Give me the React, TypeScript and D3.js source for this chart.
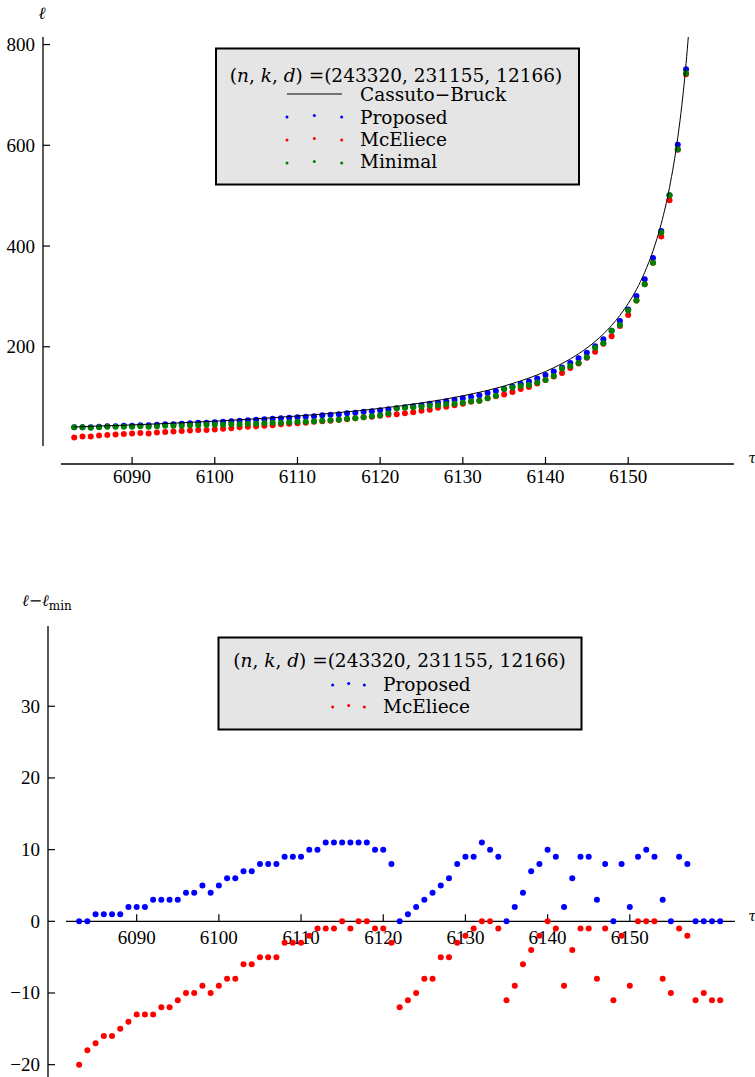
import React from 'react';
import * as d3 from 'd3';

// ---------- data ----------
const tauTop = [6083,6084,6085,6086,6087,6088,6089,6090,6091,6092,6093,6094,6095,6096,6097,6098,6099,6100,6101,6102,6103,6104,6105,6106,6107,6108,6109,6110,6111,6112,6113,6114,6115,6116,6117,6118,6119,6120,6121,6122,6123,6124,6125,6126,6127,6128,6129,6130,6131,6132,6133,6134,6135,6136,6137,6138,6139,6140,6141,6142,6143,6144,6145,6146,6147,6148,6149,6150,6151,6152,6153,6154,6155,6156,6157];
const proposedTop = [40,40,40,41,42,42,43,43,44,44,45,46,46,47,48,49,49,50,51,52,53,54,55,56,57,58,59,60,61,62,64,65,66,68,69,71,72,74,76,78,80,82,84,87,89,92,95,98,101,104,108,112,116,121,126,131,137,144,151,159,168,177,188,201,215,232,251,274,301,334,376,430,501,601,751];
const mcelieceTop = [20,22,22,24,25,26,27,28,29,28,30,31,32,33,34,35,35,36,37,38,40,41,42,43,44,46,47,48,49,51,52,53,55,56,58,60,61,63,65,66,68,70,73,75,79,81,84,87,91,93,98,102,105,110,116,120,127,134,141,148,158,167,178,190,206,221,241,263,292,324,367,419,491,591,741];
const minimalTop = [40,40,39,40,41,41,41,41,42,41,42,43,43,43,44,44,45,45,45,46,46,47,47,48,49,49,50,51,51,52,53,54,55,57,58,60,62,64,68,78,79,80,81,83,84,86,87,89,92,93,98,103,116,119,122,124,129,134,142,157,162,168,179,198,207,232,243,272,292,324,367,427,501,592,743];

const cbTau = [6083,6085,6090,6095,6100,6105,6110,6115,6120,6125,6130,6135,6138,6140,6142,6144,6146,6147,6148,6149,6150,6151,6152,6153,6154,6155,6156,6156.5,6157,6157.3];
const cbVal = [40.9,42.0,44.9,48.3,52.3,56.9,62.5,69.3,77.7,88.4,102.6,122.1,137.9,150.9,166.7,186.0,210.5,225.4,242.4,262.3,285.7,313.7,347.8,390.2,444.4,516.1,615.4,680.9,761.9,820.5];

const tauBottom = [6083,6084,6085,6086,6087,6088,6089,6090,6091,6092,6093,6094,6095,6096,6097,6098,6099,6100,6101,6102,6103,6104,6105,6106,6107,6108,6109,6110,6111,6112,6113,6114,6115,6116,6117,6118,6119,6120,6121,6122,6123,6124,6125,6126,6127,6128,6129,6130,6131,6132,6133,6134,6135,6136,6137,6138,6139,6140,6141,6142,6143,6144,6145,6146,6147,6148,6149,6150,6151,6152,6153,6154,6155,6156,6157,6158,6159,6160,6161];
const diffProposed = [0,0,1,1,1,1,2,2,2,3,3,3,3,4,4,5,4,5,6,6,7,7,8,8,8,9,9,9,10,10,11,11,11,11,11,11,10,10,8,0,1,2,3,4,5,6,8,9,9,11,10,9,0,2,4,7,8,10,9,2,6,9,9,3,8,0,8,2,9,10,9,3,0,9,8,0,0,0,0];
const diffMcEliece = [-20,-18,-17,-16,-16,-15,-14,-13,-13,-13,-12,-12,-11,-10,-10,-9,-10,-9,-8,-8,-6,-6,-5,-5,-5,-3,-3,-3,-2,-1,-1,-1,0,-1,0,0,-1,-1,-3,-12,-11,-10,-8,-8,-5,-5,-3,-2,-1,0,0,-1,-11,-9,-6,-4,-2,0,-1,-9,-4,-1,-1,-8,-1,-11,-2,-9,0,0,0,-8,-10,-1,-2,-11,-10,-11,-11];

const xTicks = [6090, 6100, 6110, 6120, 6130, 6140, 6150];
const yTicksTop = [200, 400, 600, 800];
const yTicksBottom = [-20, -10, 0, 10, 20, 30];

const legendTitle = '(243320, 231155, 12166)';

// ---------- styling ----------
const BLUE = '#0000ff';
const RED = '#ff0000';
const GREEN = '#008000';
const TICK_FONT = '"Liberation Serif", "Times New Roman", serif';
const LEG_FONT = '"DejaVu Serif", serif';
const TICK_SIZE = 19;

const fmt = (v: number) => (v < 0 ? '\u2212' + Math.abs(v) : String(v));

export default function App() {
  const xTop = d3.scaleLinear().domain([6081.4, 6162.8]).range([61, 734]);
  const yTop = d3.scaleLinear().domain([3, 815]).range([446, 37]);
  const xBot = d3.scaleLinear().domain([6081.4, 6162.8]).range([66, 735]);
  const yBot = d3.scaleLinear().domain([-22, 41.2]).range([1079, 626]);

  const cbLine = d3
    .line<number>()
    .x((_, i) => xTop(cbTau[i]))
    .y((d) => yTop(d))
    .curve(d3.curveMonotoneX)(cbVal) as string;

  const r = 3;
  const topAxisY = 464;
  const topSpineX = 43;
  const botSpineX = 48;
  const botZeroY = yBot(0);

  return (
    <svg
      width={755}
      height={1077}
      style={{ position: 'absolute', left: 0, top: 0, display: 'block', background: '#fff' }}
    >
      <defs>
        <clipPath id="topclip">
          <rect x={43} y={37} width={700} height={420} />
        </clipPath>
      </defs>

      {/* ================= TOP CHART ================= */}
      <line x1={topSpineX} x2={topSpineX} y1={37} y2={446} stroke="#000" strokeWidth={1.3} />
      {yTicksTop.map((t) => (
        <g key={'yt' + t}>
          <line x1={topSpineX} x2={topSpineX + 7} y1={yTop(t)} y2={yTop(t)} stroke="#000" strokeWidth={1.2} />
          <text x={35} y={yTop(t) + 6.5} textAnchor="end" fontFamily={TICK_FONT} fontSize={TICK_SIZE}>
            {fmt(t)}
          </text>
        </g>
      ))}
      <line x1={61} x2={734} y1={topAxisY} y2={topAxisY} stroke="#000" strokeWidth={1.3} />
      {xTicks.map((t) => (
        <g key={'xt' + t}>
          <line x1={xTop(t)} x2={xTop(t)} y1={topAxisY} y2={topAxisY - 7} stroke="#000" strokeWidth={1.2} />
          <text x={xTop(t)} y={482.5} textAnchor="middle" fontFamily={TICK_FONT} fontSize={TICK_SIZE}>
            {t}
          </text>
        </g>
      ))}
      <text x={42} y={19} textAnchor="middle" fontFamily={LEG_FONT} fontSize={17} fontStyle="italic">
        ℓ
      </text>
      <text x={752} y={463} textAnchor="middle" fontFamily={LEG_FONT} fontSize={14} fontStyle="italic">
        τ
      </text>

      <g clipPath="url(#topclip)">
        {tauTop.map((t, i) => (
          <circle key={'pb' + t} cx={xTop(t)} cy={yTop(proposedTop[i])} r={r} fill={BLUE} />
        ))}
        {tauTop.map((t, i) => (
          <circle key={'pr' + t} cx={xTop(t)} cy={yTop(mcelieceTop[i])} r={r} fill={RED} />
        ))}
        {tauTop.map((t, i) => (
          <circle key={'pg' + t} cx={xTop(t)} cy={yTop(minimalTop[i])} r={r} fill={GREEN} />
        ))}
        <path d={cbLine} fill="none" stroke="#000" strokeWidth={1} />
      </g>

      {/* top legend */}
      <rect x={216} y={48.5} width={363} height={136} fill="#e5e5e5" stroke="#000" strokeWidth={2} />
      <text x={396} y={81.5} textAnchor="middle" fontFamily={LEG_FONT} fontSize={18.5}>
        (<tspan fontStyle="italic">n</tspan>, <tspan fontStyle="italic">k</tspan>,{' '}
        <tspan fontStyle="italic">d</tspan>) ={legendTitle}
      </text>
      <line x1={287} x2={342} y1={94} y2={94} stroke="#000" strokeWidth={1} />
      <text x={360} y={101} fontFamily={LEG_FONT} fontSize={18.5}>
        Cassuto{'\u2212'}Bruck
      </text>
      {[287, 314.3, 341.7].map((x, j) => (
        <circle key={'lb' + j} cx={x} cy={117 + (j === 1 ? -1.5 : 0)} r={1.5} fill={BLUE} />
      ))}
      <text x={360} y={123.5} fontFamily={LEG_FONT} fontSize={18.5}>
        Proposed
      </text>
      {[287, 314.3, 341.7].map((x, j) => (
        <circle key={'lr' + j} cx={x} cy={140 + (j === 1 ? -1.5 : 0)} r={1.5} fill={RED} />
      ))}
      <text x={360} y={146} fontFamily={LEG_FONT} fontSize={18.5}>
        McEliece
      </text>
      {[287, 314.3, 341.7].map((x, j) => (
        <circle key={'lg' + j} cx={x} cy={163 + (j === 1 ? -1.5 : 0)} r={1.5} fill={GREEN} />
      ))}
      <text x={360} y={168} fontFamily={LEG_FONT} fontSize={18.5}>
        Minimal
      </text>

      {/* ================= BOTTOM CHART ================= */}
      <line x1={botSpineX} x2={botSpineX} y1={626} y2={1077} stroke="#000" strokeWidth={1.3} />
      {yTicksBottom.map((t) => (
        <g key={'ybt' + t}>
          <line x1={botSpineX} x2={botSpineX + 7} y1={yBot(t)} y2={yBot(t)} stroke="#000" strokeWidth={1.2} />
          <text x={40} y={yBot(t) + 6.5} textAnchor="end" fontFamily={TICK_FONT} fontSize={TICK_SIZE}>
            {fmt(t)}
          </text>
        </g>
      ))}
      <line x1={66} x2={735} y1={botZeroY} y2={botZeroY} stroke="#000" strokeWidth={1.3} />
      {xTicks.map((t) => (
        <g key={'xbt' + t}>
          <line x1={xBot(t)} x2={xBot(t)} y1={botZeroY} y2={botZeroY - 7} stroke="#000" strokeWidth={1.2} />
          <text x={xBot(t)} y={943.5} textAnchor="middle" fontFamily={TICK_FONT} fontSize={TICK_SIZE}>
            {t}
          </text>
        </g>
      ))}
      <text x={22} y={606} fontFamily={LEG_FONT} fontSize={16}>
        <tspan fontStyle="italic">ℓ</tspan>
        <tspan>{'\u2212'}</tspan>
        <tspan fontStyle="italic">ℓ</tspan>
        <tspan fontSize={12} dy={4}>min</tspan>
      </text>
      <text x={752} y={921} textAnchor="middle" fontFamily={LEG_FONT} fontSize={14} fontStyle="italic">
        τ
      </text>

      {tauBottom.map((t, i) => (
        <circle key={'bb' + t} cx={xBot(t)} cy={yBot(diffProposed[i])} r={r} fill={BLUE} />
      ))}
      {tauBottom.map((t, i) => (
        <circle key={'br' + t} cx={xBot(t)} cy={yBot(diffMcEliece[i])} r={r} fill={RED} />
      ))}

      {/* bottom legend */}
      <rect x={218.5} y={637.5} width={363} height={92} fill="#e5e5e5" stroke="#000" strokeWidth={2} />
      <text x={399.5} y={666.5} textAnchor="middle" fontFamily={LEG_FONT} fontSize={18.5}>
        (<tspan fontStyle="italic">n</tspan>, <tspan fontStyle="italic">k</tspan>,{' '}
        <tspan fontStyle="italic">d</tspan>) ={legendTitle}
      </text>
      {[332.7, 348.7, 364.3].map((x, j) => (
        <circle key={'blb' + j} cx={x} cy={685 + (j === 1 ? -1.5 : 0)} r={1.5} fill={BLUE} />
      ))}
      <text x={383} y={691} fontFamily={LEG_FONT} fontSize={18.5}>
        Proposed
      </text>
      {[332.7, 348.7, 364.3].map((x, j) => (
        <circle key={'blr' + j} cx={x} cy={707 + (j === 1 ? -1.5 : 0)} r={1.5} fill={RED} />
      ))}
      <text x={383} y={713} fontFamily={LEG_FONT} fontSize={18.5}>
        McEliece
      </text>
    </svg>
  );
}
